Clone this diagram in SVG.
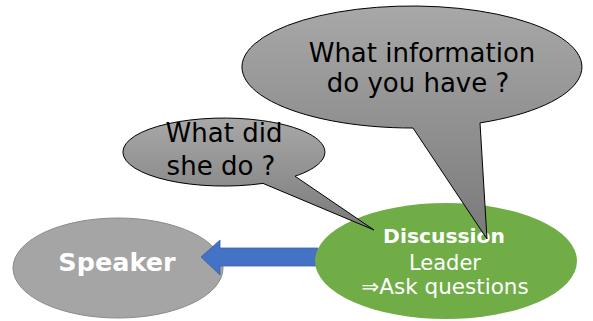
<svg xmlns="http://www.w3.org/2000/svg" width="593" height="321" viewBox="0 0 593 321">
<defs>
<linearGradient id="grayGrad" x1="0" y1="0" x2="0" y2="1">
<stop offset="0" stop-color="#a8a8a8"/>
<stop offset="1" stop-color="#7a7a7a"/>
</linearGradient>
<style>
.callout{fill:url(#grayGrad);stroke:#000;stroke-width:1;}
.ctext{font-family:"DejaVu Sans",Verdana,sans-serif;font-size:26px;fill:#000;text-anchor:middle;}
.wtext{font-family:"DejaVu Sans",Verdana,sans-serif;fill:#fff;text-anchor:middle;}
</style>
</defs>
<rect width="593" height="321" fill="#fff"/>
<g id="speaker">
<ellipse cx="118" cy="268" rx="105" ry="50" fill="#a5a5a5" stroke="#8a8a8a" stroke-width="1"/>
<text class="wtext" x="117" y="271" font-size="25.5" font-weight="bold">Speaker</text>
</g>
<g id="connectors">
<path d="M318 248 L220 248 L220 240 L201 257 L220 275 L220 266 L318 266 Z" fill="#4472c4" stroke="#3a62a8" stroke-width="0.8"/>
</g>
<g id="discussion">
<ellipse cx="446" cy="261" rx="131" ry="58" fill="#70ad47"/>
<text class="wtext" x="444" y="243" font-size="20.3" font-weight="bold">Discussion</text>
<text class="wtext" x="445" y="270" font-size="21">Leader</text>
<text class="wtext" x="445" y="294" font-size="21.5">⇒Ask questions</text>
</g>
<g id="callout-info">
<path class="callout" d="M480 122.9 A170 61 0 1 0 413 128 L487 239 Z"/>
<text class="ctext" x="422" y="62">What information</text>
<text class="ctext" x="418" y="92">do you have ?</text>
</g>
<g id="callout-did">
<path class="callout" d="M295 176.2 A101 34 0 1 0 263 183.4 L374 230 Z"/>
<text class="ctext" x="224" y="142">What did</text>
<text class="ctext" x="221" y="175">she do ?</text>
</g>
</svg>
